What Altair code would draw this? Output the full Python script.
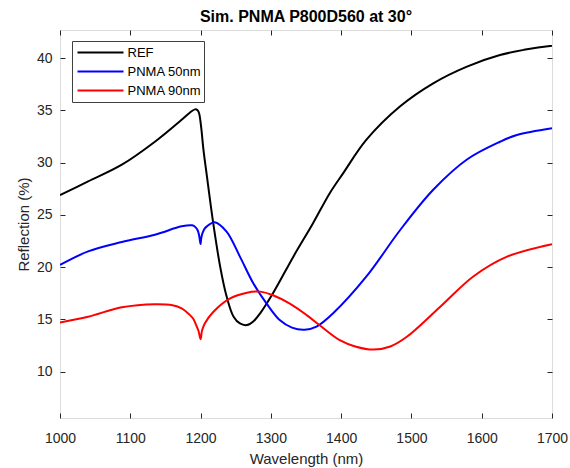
import altair as alt
import pandas as pd

# --- data ---
series_names = ["REF", "PNMA 50nm", "PNMA 90nm"]
series_colors = ["#000000", "#0000FF", "#FF0000"]

wl_ref = [1000, 1040, 1088, 1135, 1173, 1185, 1192, 1196, 1198, 1201, 1204, 1209, 1218,
          1228, 1237, 1247, 1256, 1266, 1275, 1285, 1303, 1332, 1360, 1384, 1403, 1436,
          1484, 1531, 1579, 1626, 1660, 1700]
r_ref = [26.9, 28.2, 29.8, 32.0, 34.1, 34.8, 35.1, 35.0, 34.7, 33.3, 31.3, 28.7, 24.2,
         20.0, 17.2, 15.25, 14.6, 14.45, 14.8, 15.6, 17.5, 21.0, 24.2, 27.1, 29.0, 32.2,
         35.4, 37.6, 39.2, 40.3, 40.8, 41.2]

wl_50 = [1000, 1040, 1088, 1135, 1173, 1188, 1193, 1196, 1198, 1200, 1201, 1203, 1206,
         1209, 1220, 1237, 1256, 1275, 1294, 1313, 1330, 1348, 1365, 1389, 1436, 1484,
         1531, 1579, 1626, 1650, 1700]
r_50 = [20.2, 21.5, 22.4, 23.1, 23.9, 24.0, 23.8, 23.5, 23.0, 22.2, 22.8, 23.3, 23.7,
        23.9, 24.3, 23.4, 21.0, 18.45, 16.5, 14.9, 14.2, 14.0, 14.3, 15.6, 19.1, 23.55,
        27.4, 30.3, 32.0, 32.65, 33.3]

wl_90 = [1000, 1040, 1088, 1135, 1160, 1173, 1185, 1190, 1194, 1197, 1200, 1202, 1206,
         1218, 1242, 1266, 1285, 1303, 1327, 1351, 1370, 1398, 1420, 1446, 1470, 1493,
         1541, 1588, 1636, 1700]
r_90 = [14.7, 15.25, 16.15, 16.45, 16.35, 16.05, 15.4, 15.0, 14.4, 13.9, 13.1, 13.9, 14.6,
        15.7, 17.0, 17.55, 17.65, 17.3, 16.5, 15.4, 14.4, 13.0, 12.4, 12.1, 12.4, 13.3,
        16.2, 19.1, 21.0, 22.2]

x_ticks = [1000, 1100, 1200, 1300, 1400, 1500, 1600, 1700]
y_ticks = [10, 15, 20, 25, 30, 35, 40]

rows = []
for name, wl, rv in [(series_names[0], wl_ref, r_ref),
                     (series_names[1], wl_50, r_50),
                     (series_names[2], wl_90, r_90)]:
    for w, r in zip(wl, rv):
        rows.append({"series": name, "wavelength": w, "reflection": r})
df = pd.DataFrame(rows)

FONT = "Liberation Sans"
INK = "#262626"

x_scale = alt.Scale(domain=[1000, 1700], nice=False, zero=False)
y_scale = alt.Scale(domain=[5.55, 42.7], nice=False, zero=False)

main = alt.Chart(df).mark_line(strokeWidth=2, interpolate="catmull-rom", clip=True).encode(
    x=alt.X("wavelength:Q", scale=x_scale,
            axis=alt.Axis(orient="bottom", values=x_ticks, format="d", domain=False, grid=False,
                          tickSize=5, tickColor=INK, offset=-5, labelFlush=False,
                          labelFontSize=14, labelColor=INK, labelFont=FONT, labelPadding=13,
                          title="Wavelength (nm)", titleFontSize=15, titleFont=FONT,
                          titleFontWeight="normal", titleColor=INK, titlePadding=6)),
    y=alt.Y("reflection:Q", scale=y_scale,
            axis=alt.Axis(orient="left", values=y_ticks, format="d", domain=False, grid=False,
                          tickSize=5, tickColor=INK, offset=-5, labelFlush=False,
                          labelFontSize=14, labelColor=INK, labelFont=FONT, labelPadding=8,
                          title="Reflection (%)", titleFontSize=15, titleFont=FONT,
                          titleFontWeight="normal", titleColor=INK, titlePadding=5)),
    color=alt.Color("series:N",
                    scale=alt.Scale(domain=series_names, range=series_colors),
                    legend=alt.Legend(title=None, orient="none", legendX=12, legendY=11,
                                      symbolType="stroke", symbolSize=2116,
                                      symbolStrokeWidth=2, clipHeight=19, rowPadding=0,
                                      padding=2, symbolOffset=2.5, labelOffset=3,
                                      labelFontSize=13, labelFont=FONT, labelColor="#000000",
                                      strokeColor="#404040", fillColor="#FFFFFF",
                                      cornerRadius=0)),
    order=alt.Order("wavelength:Q"),
)

frame_ticks = alt.Chart(df).mark_line(opacity=0).encode(
    x=alt.X("wavelength:Q", scale=x_scale,
            axis=alt.Axis(orient="top", values=x_ticks, domain=False, grid=False,
                          labels=False, title=None, tickSize=5, tickColor=INK, offset=-5)),
    y=alt.Y("reflection:Q", scale=y_scale,
            axis=alt.Axis(orient="right", values=y_ticks, domain=False, grid=False,
                          labels=False, title=None, tickSize=5, tickColor=INK, offset=-5)),
    detail="series:N",
)

chart = alt.layer(main, frame_ticks).resolve_axis(
    x="independent", y="independent"
).properties(
    width=492, height=388,
    title=alt.TitleParams("Sim. PNMA P800D560 at 30°", fontSize=16, fontWeight="bold",
                          font=FONT, color="#000000", anchor="middle", offset=5),
    autosize=alt.AutoSizeParams(type="none"),
    padding={"left": 60, "top": 30, "right": 18, "bottom": 50},
).configure_view(stroke=INK, strokeWidth=1).configure(background="white")

chart.save("out.html", embed_options={"renderer": "svg", "actions": False})
